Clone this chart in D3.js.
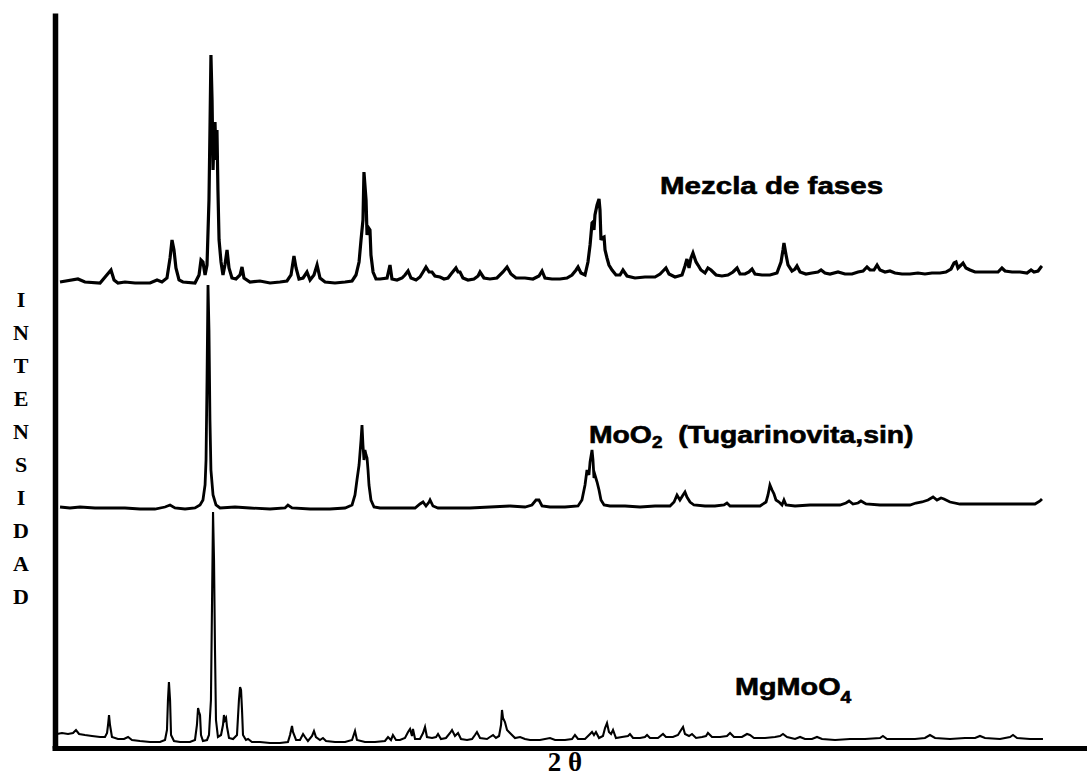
<!DOCTYPE html>
<html>
<head>
<meta charset="utf-8">
<title>DRX</title>
<script src="https://d3js.org/d3.v7.min.js"></script>
<style>
  body { margin: 0; background: white; }
  .trace { fill: none; stroke: black; stroke-linejoin: miter; }
  .lbl { font-family: "Liberation Sans", Arial, sans-serif; font-weight: bold; stroke: black; stroke-width: 0.6px; }
  .ser { font-family: "Liberation Serif", "Times New Roman", serif; font-weight: bold; }
</style>
</head>
<body>
<div id="chart"></div>
<script>
var mezcla = [
  [15.43,6],[16.71,9],[17.21,6],[18.29,5],[19.07,18],[19.29,8],[19.57,5],[20.07,6],[20.79,5],[21.86,5],
  [22.36,8],[22.71,6],[23.07,10],[23.29,30],[23.43,48],[23.57,38],[23.71,20],[23.93,8],[24.21,6],[25.07,5],
  [25.36,13],[25.5,28],[25.64,26],[25.79,13],[25.93,23],[26.07,88],[26.14,158],[26.21,233],[26.29,188],[26.36,118],
  [26.43,153],[26.5,166],[26.57,128],[26.64,158],[26.71,98],[26.79,48],[26.93,26],[27.07,13],[27.21,23],[27.36,38],
  [27.5,20],[27.71,10],[28.0,9],[28.29,13],[28.43,21],[28.57,10],[29.0,6],[29.71,7],[30.43,5],[31.14,6],
  [31.64,7],[31.93,13],[32.14,32],[32.29,20],[32.5,9],[32.79,10],[33.07,16],[33.29,8],[33.57,13],[33.79,23],
  [34.0,10],[34.36,6],[35.07,5],[35.79,6],[36.29,7],[36.57,13],[36.79,26],[36.93,48],[37.07,68],[37.14,116],
  [37.29,88],[37.36,53],[37.43,61],[37.57,58],[37.64,33],[37.79,16],[38.0,9],[38.29,9],[38.79,10],[39.0,23],
  [39.14,9],[39.5,8],[39.86,10],[40.07,13],[40.29,17],[40.5,10],[40.86,8],[41.14,11],[41.36,16],[41.57,21],
  [41.79,16],[42.0,16],[42.21,12],[42.57,11],[42.86,9],[43.14,10],[43.36,14],[43.71,20],[43.86,16],[44.0,16],
  [44.21,10],[44.57,8],[45.0,9],[45.29,12],[45.43,16],[45.71,10],[46.14,9],[46.64,10],[47.07,16],[47.36,21],
  [47.64,14],[48.0,10],[48.64,10],[49.21,9],[49.64,12],[49.86,17],[50.07,10],[50.57,9],[51.14,9],[51.64,10],
  [52.0,13],[52.29,18],[52.43,21],[52.64,15],[52.93,13],[53.14,26],[53.29,43],[53.43,65],[53.5,66],[53.57,58],
  [53.64,73],[53.79,83],[53.93,89],[54.0,78],[54.07,48],[54.14,50],[54.29,51],[54.36,38],[54.5,30],[54.64,23],
  [54.86,18],[55.14,13],[55.43,13],[55.64,18],[55.93,12],[56.5,10],[57.21,11],[57.93,11],[58.29,14],[58.5,17],
  [58.71,20],[58.93,14],[59.36,11],[59.86,13],[60.07,22],[60.21,29],[60.36,20],[60.5,30],[60.64,35],[60.86,26],
  [61.0,23],[61.21,18],[61.5,15],[61.71,20],[61.93,18],[62.29,13],[62.71,12],[63.14,13],[63.5,16],[63.79,20],
  [64.0,14],[64.36,14],[64.64,16],[64.86,19],[65.07,14],[65.57,13],[66.14,13],[66.64,15],[66.93,26],[67.07,38],
  [67.14,45],[67.29,33],[67.43,23],[67.71,17],[67.93,19],[68.07,22],[68.29,16],[68.71,14],[69.14,15],[69.57,16],
  [69.79,18],[70.07,15],[70.43,14],[71.0,16],[71.5,14],[72.0,14],[72.43,16],[72.79,17],[73.07,21],[73.29,18],
  [73.57,18],[73.79,23],[74.0,18],[74.36,16],[74.71,17],[75.07,15],[75.57,14],[76.14,14],[76.71,15],[77.21,14],
  [77.71,15],[78.29,15],[78.71,16],[79.07,19],[79.29,25],[79.43,26],[79.57,20],[79.79,23],[79.93,25],[80.14,20],
  [80.43,18],[80.79,16],[81.29,16],[81.71,16],[82.07,16],[82.43,16],[82.71,20],[82.93,17],[83.43,16],[84.0,16],
  [84.5,15],[84.79,18],[85.0,16],[85.29,17],[85.5,21],[85.57,22]
];

var moo2 = [
  [15.43,5],[16.14,4],[16.86,5],[17.93,4],[19.0,4],[20.07,4],[21.14,3],[22.21,3],[22.93,5],[23.29,7],
  [23.64,4],[24.36,3],[25.07,4],[25.43,7],[25.64,12],[25.79,27],[25.86,52],[25.93,132],[26.0,227],[26.07,182],
  [26.14,92],[26.21,42],[26.36,17],[26.57,7],[26.86,4],[27.93,5],[29.0,4],[30.43,3],[31.5,4],[31.71,7],
  [32.0,4],[33.29,3],[34.71,3],[35.79,4],[36.29,7],[36.5,17],[36.64,32],[36.79,47],[36.93,72],[37.0,87],
  [37.07,67],[37.14,52],[37.21,62],[37.29,57],[37.36,54],[37.43,42],[37.5,27],[37.64,12],[37.86,5],[38.29,4],
  [39.71,4],[40.79,4],[41.14,8],[41.36,10],[41.57,6],[41.79,10],[41.86,12],[42.07,6],[42.43,4],[43.64,4],
  [44.71,4],[46.14,5],[47.57,6],[48.64,5],[49.14,7],[49.43,12],[49.64,12],[49.86,6],[50.43,5],[51.5,5],
  [52.43,6],[52.71,12],[52.93,27],[53.07,42],[53.21,37],[53.29,50],[53.43,62],[53.5,52],[53.57,34],[53.64,37],
  [53.79,30],[53.93,22],[54.07,12],[54.29,7],[54.71,6],[55.79,6],[56.86,5],[57.93,6],[59.0,6],[59.29,10],
  [59.5,17],[59.71,12],[59.93,17],[60.07,20],[60.21,15],[60.43,10],[60.71,7],[61.5,6],[62.21,6],[62.86,7],
  [63.07,9],[63.29,6],[64.36,6],[65.43,6],[65.86,10],[66.0,17],[66.14,27],[66.29,22],[66.43,18],[66.57,12],
  [66.79,10],[67.0,7],[67.14,12],[67.29,7],[67.93,6],[69.0,7],[70.07,7],[71.14,7],[71.57,9],[71.79,11],
  [72.07,8],[72.43,9],[72.64,11],[73.0,8],[74.0,7],[75.07,7],[76.14,7],[76.57,9],[77.0,10],[77.43,12],
  [77.79,15],[78.07,12],[78.36,14],[78.57,13],[79.0,10],[79.71,8],[80.79,8],[81.86,8],[82.93,8],[84.0,8],
  [85.07,8],[85.43,11],[85.57,13]
];

var mgmoo4 = [
  [15.21,14],[15.57,15],[16.0,14],[16.36,15],[16.57,18],[16.79,14],[17.21,13],[17.71,12],[18.29,11],[18.64,11],
  [18.79,15],[18.86,23],[18.93,33],[19.0,23],[19.14,11],[19.57,9],[20.0,9],[20.29,11],[20.57,8],[21.14,7],
  [21.86,6],[22.57,6],[22.93,8],[23.07,18],[23.14,48],[23.21,66],[23.29,48],[23.36,13],[23.57,7],[24.0,6],
  [24.71,6],[25.07,8],[25.21,23],[25.29,40],[25.36,36],[25.43,33],[25.5,13],[25.64,7],[25.93,8],[26.07,13],
  [26.21,48],[26.29,148],[26.36,236],[26.43,188],[26.5,98],[26.57,28],[26.71,11],[26.93,13],[27.07,23],[27.14,33],
  [27.21,28],[27.29,30],[27.36,21],[27.5,10],[27.79,9],[28.07,13],[28.21,48],[28.29,61],[28.36,58],[28.43,38],
  [28.5,13],[28.71,8],[28.86,9],[29.14,6],[29.71,6],[30.43,5],[31.14,5],[31.71,6],[31.86,13],[32.0,22],
  [32.07,16],[32.29,8],[32.57,8],[32.79,14],[32.93,11],[33.14,7],[33.43,12],[33.57,17],[33.71,11],[34.0,8],
  [34.21,10],[34.43,7],[35.07,6],[35.79,6],[36.29,8],[36.5,17],[36.64,8],[37.21,6],[37.93,6],[38.64,7],
  [38.86,11],[39.07,8],[39.21,13],[39.43,8],[39.71,8],[40.07,10],[40.29,16],[40.43,19],[40.57,12],[40.64,19],
  [40.79,9],[41.14,9],[41.36,15],[41.5,21],[41.64,11],[42.0,10],[42.29,11],[42.43,14],[42.64,9],[43.0,10],
  [43.29,15],[43.43,18],[43.64,12],[43.86,15],[44.07,9],[44.5,8],[44.86,9],[45.07,13],[45.21,16],[45.43,10],
  [45.93,9],[46.14,11],[46.36,13],[46.57,10],[46.79,12],[46.93,23],[47.0,38],[47.07,30],[47.21,26],[47.36,18],
  [47.57,15],[47.93,10],[48.29,11],[48.64,9],[49.0,8],[49.71,8],[50.43,10],[50.79,8],[51.5,8],[52.0,9],
  [52.21,13],[52.43,9],[52.93,9],[53.29,14],[53.43,16],[53.57,13],[53.71,16],[53.93,10],[54.21,12],[54.36,20],
  [54.5,25],[54.64,16],[54.79,14],[54.93,18],[55.14,10],[55.57,11],[56.0,12],[56.14,14],[56.36,10],[56.86,10],
  [57.21,11],[57.36,13],[57.57,10],[58.14,10],[58.5,14],[58.71,11],[59.21,11],[59.57,13],[59.79,18],[59.93,21],
  [60.07,14],[60.36,12],[60.57,14],[60.86,10],[61.29,11],[61.57,12],[61.71,15],[62.0,11],[62.57,11],[63.07,12],
  [63.29,15],[63.57,11],[64.14,11],[64.5,14],[64.71,13],[65.0,10],[65.79,10],[66.5,11],[66.86,12],[67.07,14],
  [67.36,11],[67.93,9],[68.29,11],[68.64,9],[69.14,9],[69.5,11],[69.86,9],[70.79,8],[71.86,9],[72.93,9],
  [74.0,10],[74.21,12],[74.5,9],[75.43,9],[76.5,9],[77.21,10],[77.57,13],[77.93,10],[79.0,9],[80.07,10],
  [80.79,10],[81.14,12],[81.5,10],[82.57,9],[83.29,11],[83.5,13],[83.79,10],[84.71,9],[85.64,9]
];

var offsets = [460, 236, 0];
var strokes = [3.2, 2.8, 2.1];
var yLetters = ["I", "N", "T", "E", "N", "S", "I", "D", "A", "D"];

var W = 1087, H = 778;
var svg = d3.select("#chart").append("svg").attr("width", W).attr("height", H);

var x = d3.scaleLinear().domain([15, 85]).range([54, 1034]);
var y = d3.scaleLinear().domain([0, 735]).range([748, 13]);

// ejes sin marcas
var xAxisScale = d3.scaleLinear().domain([x.invert(52), x.invert(W)]).range([52, W]);
svg.append("g")
  .attr("transform", "translate(0,748)")
  .call(d3.axisBottom(xAxisScale).tickValues([]).tickSizeOuter(0))
  .select(".domain").attr("stroke", "black").attr("stroke-width", 5);
svg.append("g")
  .attr("transform", "translate(55,0)")
  .call(d3.axisLeft(y).tickValues([]).tickSizeOuter(0))
  .select(".domain").attr("stroke", "black").attr("stroke-width", 5.5);

[mezcla, moo2, mgmoo4].forEach(function(data, i) {
  var line = d3.line()
    .x(function(d) { return x(d[0]); })
    .y(function(d) { return y(d[1] + offsets[i]); });
  svg.append("path")
    .datum(data)
    .attr("class", "trace")
    .attr("stroke-width", strokes[i])
    .attr("d", line);
});

// etiquetas: letra ancha -> escala horizontal
function label(px, py, sx) {
  return svg.append("text").attr("class", "lbl")
    .attr("transform", "translate(" + px + "," + py + ") scale(" + sx + ",1)")
    .style("font-size", "24px");
}
label(660, 194, 1.23).text("Mezcla de fases");

var l2 = label(589, 443, 1.18);
l2.append("tspan").text("MoO");
l2.append("tspan").style("font-size", "16px").attr("dy", 5).text("2");
l2.append("tspan").attr("dy", -5).text("\u00a0\u00a0(Tugarinovita,sin)");

var l3 = label(735, 695, 1.2);
l3.append("tspan").text("MgMoO");
l3.append("tspan").style("font-size", "16px").attr("dy", 8).text("4");

svg.append("g").selectAll("text")
  .data(yLetters).enter().append("text")
  .attr("class", "ser")
  .style("font-size", "22px")
  .attr("text-anchor", "middle")
  .attr("x", 21)
  .attr("y", function(d, i) { return 307 + i * 33; })
  .text(function(d) { return d; });

svg.append("text").attr("class", "ser")
  .style("font-size", "27px").attr("text-anchor", "middle")
  .attr("x", 565).attr("y", 771)
  .text("2 θ");
</script>
</body>
</html>
